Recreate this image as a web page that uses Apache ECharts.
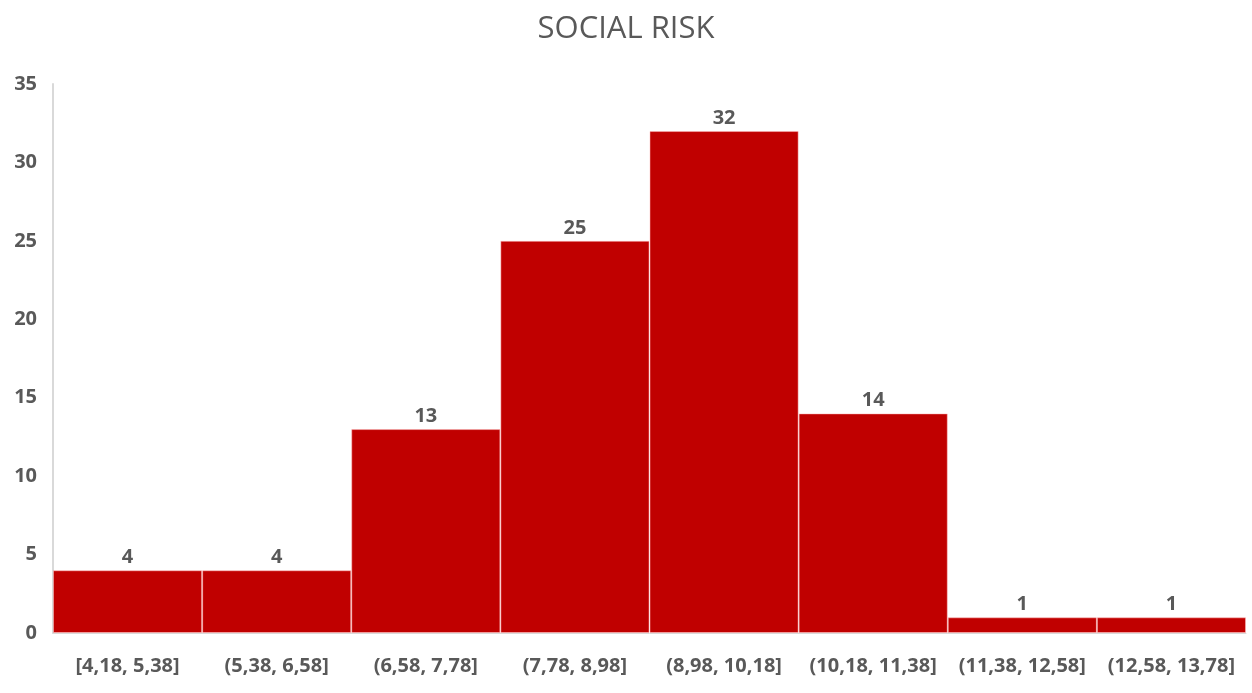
<!DOCTYPE html>
<html>
<head>
<meta charset="utf-8">
<script src="https://cdn.jsdelivr.net/npm/echarts@6/dist/echarts.min.js"></script>
<style>
  html, body { margin: 0; padding: 0; background: #ffffff; }
  #chart { width: 1252px; height: 693px; }
</style>
</head>
<body>
<div id="chart"></div>
<script>
// Histogram bins and their counts
const binLabels = ['[4,18, 5,38]', '(5,38, 6,58]', '(6,58, 7,78]', '(7,78, 8,98]',
                   '(8,98, 10,18]', '(10,18, 11,38]', '(11,38, 12,58]', '(12,58, 13,78]'];
const counts = [4, 4, 13, 25, 32, 14, 1, 1];
const yTicks = { min: 0, max: 35, step: 5 };

const chart = echarts.init(document.getElementById('chart'));
const textGray = '#595959';
const font = '"Open Sans", "Noto Sans", sans-serif';

chart.setOption({
  animation: false,
  title: {
    text: 'SOCIAL RISK',
    left: 'center',
    top: 9,
    textStyle: { color: textGray, fontSize: 31, fontWeight: 'normal', fontFamily: font }
  },
  grid: { left: 53, right: 6, top: 84, bottom: 60 },
  xAxis: {
    type: 'category',
    data: binLabels,
    axisLine: { show: true, lineStyle: { color: '#d9d9d9' } },
    axisTick: { show: false },
    axisLabel: { color: textGray, fontSize: 20, fontWeight: 'bold', fontFamily: font, margin: 23, interval: 0 }
  },
  yAxis: {
    type: 'value',
    min: yTicks.min,
    max: yTicks.max,
    interval: yTicks.step,
    axisLine: { show: true, lineStyle: { color: '#d9d9d9', width: 2 } },
    axisTick: { show: false },
    splitLine: { show: false },
    axisLabel: { color: textGray, fontSize: 20, fontWeight: 'bold', fontFamily: font, margin: 16 }
  },
  series: [{
    type: 'bar',
    data: counts,
    barWidth: '100%',
    barCategoryGap: 0,
    itemStyle: { color: '#c00000', borderColor: 'rgba(255,190,190,0.5)', borderWidth: 1 },
    label: {
      show: true,
      position: 'top',
      distance: 3,
      color: textGray,
      fontSize: 20,
      fontWeight: 'bold',
      fontFamily: font
    }
  }]
});
</script>
</body>
</html>
